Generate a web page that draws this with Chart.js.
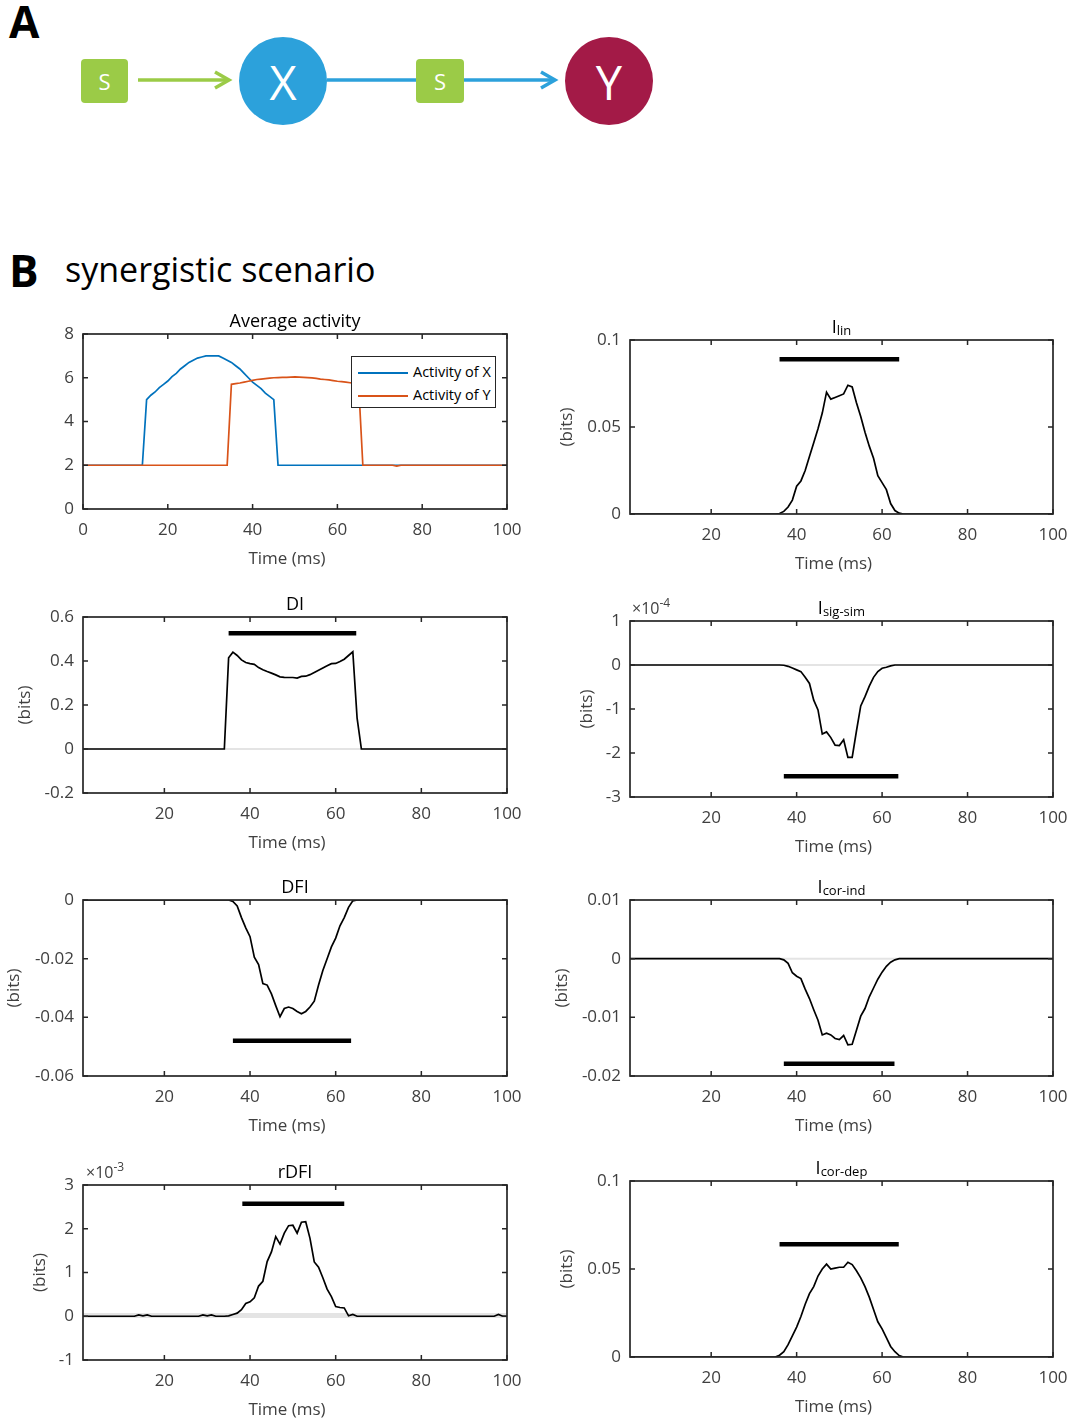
<!DOCTYPE html>
<html>
<head>
<meta charset="utf-8">
<title>synergistic scenario</title>
<script src="https://cdn.jsdelivr.net/npm/chart.js@4.4.0/dist/chart.umd.min.js"></script>
<style>
  body { margin: 0; background: #fff; }
  #page { position: relative; width: 1070px; height: 1422px; overflow: hidden; font-family: "Open Sans", sans-serif; }
  canvas { position: absolute; }
  .ttl { position: absolute; text-align: center; font-size: 18px; line-height: 22px; color: #000; white-space: nowrap; }
  .ttl sub { font-size: 13px; vertical-align: -2px; line-height: 0; }
  .xl { position: absolute; width: 200px; text-align: center; font-size: 17px; line-height: 22px; color: #404040; white-space: nowrap; }
  .expo { position: absolute; font-size: 16px; line-height: 20px; color: #404040; white-space: nowrap; }
  .expo sup { font-size: 12px; vertical-align: 7px; line-height: 0; }
  .legend { position: absolute; background: #fff; border: 1px solid #262626; font-size: 14.5px; color: #000; z-index: 2; }
  .legend div { position: absolute; left: 6px; height: 20px; line-height: 20px; white-space: nowrap; }
  .legend span.sw { display: inline-block; width: 50px; height: 0; border-top: 2px solid; vertical-align: middle; margin-right: 5px; }
  .big { position: absolute; font-weight: 700; font-size: 44px; line-height: 1; color: #000; }
  .sub-title { position: absolute; font-size: 34px; line-height: 1; color: #000; }
</style>
</head>
<body>
<div id="page">
  <svg width="700" height="140" style="position:absolute;left:0;top:0">
    <text x="9" y="38" font-family="Open Sans" font-weight="700" font-size="44">A</text>
    <rect x="81" y="59" width="47" height="44" rx="4" fill="#9BCB47"/>
    <text x="104.5" y="81" fill="#fff" font-family="Open Sans" font-size="22" text-anchor="middle" dominant-baseline="central">S</text>
    <line x1="138" y1="80" x2="229" y2="80" stroke="#9BCB47" stroke-width="3.5"/>
    <polyline points="215,72 229,80 215,88" fill="none" stroke="#9BCB47" stroke-width="3.5"/>
    <circle cx="283" cy="81" r="44" fill="#2CA1DB"/>
    <text x="283" y="82" fill="#fff" font-family="Open Sans" font-size="47" text-anchor="middle" dominant-baseline="central">X</text>
    <line x1="327" y1="80" x2="416" y2="80" stroke="#2CA1DB" stroke-width="3.5"/>
    <rect x="416" y="59" width="48" height="44" rx="4" fill="#9BCB47"/>
    <text x="440" y="81" fill="#fff" font-family="Open Sans" font-size="22" text-anchor="middle" dominant-baseline="central">S</text>
    <line x1="464" y1="80" x2="555" y2="80" stroke="#2CA1DB" stroke-width="3.5"/>
    <polyline points="541,72 555,80 541,88" fill="none" stroke="#2CA1DB" stroke-width="3.5"/>
    <circle cx="609" cy="81" r="44" fill="#A31A47"/>
    <text x="609" y="82" fill="#fff" font-family="Open Sans" font-size="47" text-anchor="middle" dominant-baseline="central">Y</text>
  </svg>
  <div class="big" style="left:9px;top:248px">B</div>
  <div class="sub-title" style="left:65px;top:252px">synergistic scenario</div>
</div>

<script>
// ---- data (time in ms) ----

// average activity of X and Y
const timeX = [0, 14,
  15, 16, 17, 18, 19, 20, 21, 22, 23, 24,
  25, 26, 27, 28, 29, 30, 31, 32, 33, 34,
  35, 36, 37, 38, 39, 40, 41, 42, 43, 44,
  45, 46, 100];
const activityX = [2, 2,
  5.0, 5.2, 5.35, 5.55, 5.7, 5.85, 6.05, 6.2, 6.4, 6.55,
  6.7, 6.8, 6.9, 6.95, 7.0, 7.0, 7.0, 7.0, 6.9, 6.8,
  6.7, 6.55, 6.4, 6.2, 6.0, 5.8, 5.65, 5.5, 5.3, 5.15,
  5.0, 2, 2];

const timeY = [0, 34,
  35, 36, 37, 38, 39, 40, 41, 42, 43, 44,
  45, 46, 47, 48, 49, 50, 51, 52, 53, 54,
  55, 56, 57, 58, 59, 60, 61, 62, 63, 64,
  65, 66, 73, 74, 75, 100];
const activityY = [2, 2,
  5.7, 5.73, 5.76, 5.8, 5.84, 5.88, 5.92, 5.94, 5.96, 5.98,
  6.0, 6.01, 6.02, 6.02, 6.03, 6.04, 6.03, 6.02, 6.01, 5.99,
  5.97, 5.94, 5.92, 5.9, 5.87, 5.84, 5.82, 5.8, 5.77, 5.74,
  5.72, 2, 2, 1.96, 2, 2];

// information measures (bits)
const timeInfo = [1,
  34, 35, 36, 37, 38, 39, 40, 41, 42, 43,
  44, 45, 46, 47, 48, 49, 50, 51, 52, 53,
  54, 55, 56, 57, 58, 59, 60, 61, 62, 63,
  64, 65, 66,
  100];

const iLin = [0,
  0, 0, 0.0003, 0.0015, 0.004, 0.008, 0.016, 0.019, 0.025, 0.033,
  0.041, 0.049, 0.058, 0.070, 0.066, 0.067, 0.068, 0.069, 0.074, 0.073,
  0.064, 0.056, 0.047, 0.039, 0.032, 0.022, 0.018, 0.014, 0.006, 0.002,
  0.0005, 0, 0,
  0];

const di = [0,
  0, 0.415, 0.44, 0.425, 0.405, 0.393, 0.388, 0.385, 0.37, 0.36,
  0.352, 0.345, 0.337, 0.328, 0.326, 0.325, 0.325, 0.322, 0.33, 0.331,
  0.338, 0.348, 0.358, 0.368, 0.378, 0.388, 0.389, 0.398, 0.408, 0.425,
  0.442, 0.14, 0,
  0];

// in units of 1e-4 bits
const iSigSimE4 = [0,
  0, 0, 0, -0.005, -0.03, -0.07, -0.11, -0.15, -0.28, -0.42,
  -0.8, -1.02, -1.57, -1.52, -1.65, -1.82, -1.83, -1.7, -2.1, -2.1,
  -1.5, -0.93, -0.72, -0.48, -0.28, -0.15, -0.075, -0.05, -0.02, 0,
  0, 0, 0,
  0];

const dfi = [0,
  0, 0, -0.0005, -0.002, -0.006, -0.0095, -0.0125, -0.0195, -0.022, -0.0285,
  -0.029, -0.032, -0.036, -0.0398, -0.037, -0.0365, -0.037, -0.038, -0.0388, -0.038,
  -0.0365, -0.0345, -0.029, -0.024, -0.02, -0.016, -0.013, -0.0088, -0.006, -0.0025,
  -0.0003, 0, 0,
  0];

const iCorInd = [0,
  0, 0, 0, -0.0002, -0.0008, -0.0024, -0.003, -0.0034, -0.0052, -0.0068,
  -0.0087, -0.0105, -0.013, -0.0127, -0.013, -0.0136, -0.0138, -0.0131, -0.0147, -0.0146,
  -0.0122, -0.0098, -0.0085, -0.0065, -0.005, -0.0035, -0.0023, -0.0013, -0.0006, -0.0002,
  0, 0, 0,
  0];

const iCorDep = [0,
  0, 0, 0.001, 0.003, 0.007, 0.012, 0.017, 0.023, 0.03, 0.036,
  0.04, 0.046, 0.05, 0.0528, 0.05, 0.0505, 0.051, 0.051, 0.0538, 0.0525,
  0.049, 0.045, 0.04, 0.034, 0.027, 0.02, 0.016, 0.011, 0.006, 0.003,
  0.0008, 0, 0,
  0];

// in units of 1e-3 bits
const timeRdfi = [1, 13, 14, 15, 16, 17, 28, 29, 30, 31, 32,
  34, 35, 36, 37, 38, 39, 40, 41, 42, 43,
  44, 45, 46, 47, 48, 49, 50, 51, 52, 53,
  54, 55, 56, 57, 58, 59, 60, 61, 62, 63,
  64, 65, 66, 97, 98, 99, 100];
const rdfiE3 = [0, 0, 0.03, 0.01, 0.03, 0, 0, 0.03, 0.01, 0.03, 0,
  0, 0.01, 0.04, 0.07, 0.15, 0.29, 0.33, 0.42, 0.69, 0.8,
  1.25, 1.47, 1.82, 1.65, 1.9, 2.07, 2.08, 1.9, 2.15, 2.16,
  1.78, 1.24, 1.12, 0.88, 0.62, 0.45, 0.22, 0.2, 0.19, 0.01,
  0.04, 0, 0, 0, 0.04, 0, 0];

// significance bars: start (ms), end (ms), level
const sigLin = [36, 64, 0.089];
const sigDi = [35, 64.8, 0.526];
const sigSimE4 = [37, 63.8, -2.53];
const sigDfi = [36, 63.6, -0.048];
const sigInd = [37, 62.9, -0.0179];
const sigRdfiE3 = [38.2, 62, 2.57];
const sigDep = [36, 63.9, 0.064];

// tick values
const xTicksAvg = [0, 20, 40, 60, 80, 100];
const xTicks = [20, 40, 60, 80, 100];
const yTicksAvg = [0, 2, 4, 6, 8];
const yTicksLin = [0, 0.05, 0.1];
const yTicksDi = [-0.2, 0, 0.2, 0.4, 0.6];
const yTicksSim = [-3, -2, -1, 0, 1];
const yTicksDfi = [-0.06, -0.04, -0.02, 0];
const yTicksInd = [-0.02, -0.01, 0, 0.01];
const yTicksRdfi = [-1, 0, 1, 2, 3];
const yTicksDep = [0, 0.05, 0.1];

// ---- drawing ----
const FONT = '"Open Sans", sans-serif';
const GREY = '#404040';
const MT = 14, MR = 26, MB = 40;
const page = document.getElementById('page');

// matlab style box with inward ticks on all four sides
const matlabBox = {
  id: 'matlabBox',
  afterDatasetsDraw(chart) {
    const { ctx, chartArea: a, scales: { x, y } } = chart;
    ctx.save();
    ctx.strokeStyle = '#262626';
    ctx.lineWidth = 1.5;
    ctx.beginPath();
    x.ticks.forEach(t => {
      const px = x.getPixelForValue(t.value);
      ctx.moveTo(px, a.bottom); ctx.lineTo(px, a.bottom - 5);
      ctx.moveTo(px, a.top); ctx.lineTo(px, a.top + 5);
    });
    y.ticks.forEach(t => {
      const py = y.getPixelForValue(t.value);
      ctx.moveTo(a.left, py); ctx.lineTo(a.left + 5, py);
      ctx.moveTo(a.right, py); ctx.lineTo(a.right - 5, py);
    });
    ctx.stroke();
    ctx.lineWidth = 1.7;
    ctx.strokeRect(a.left, a.top, a.right - a.left, a.bottom - a.top);
    ctx.restore();
  }
};

function series(t, v, color, width, order) {
  return {
    data: t.map((tt, i) => ({ x: tt, y: v[i] })),
    borderColor: color, borderWidth: width, pointRadius: 0,
    fill: false, tension: 0, order: order, borderCapStyle: 'butt'
  };
}
function sigBar(b) { return series([b[0], b[1]], [b[2], b[2]], '#000', 4.5, 0); }
function nullLine(level, width) { return series([1, 100], [level, level], '#e4e4e4', width, 3); }

function infoPanel(box, ml, yTicks, t, v, bar, title, nullLevel, nullWidth) {
  return {
    box, ml, xmin: 1, xTicks, ymin: yTicks[0], ymax: yTicks[yTicks.length - 1], yTicks,
    bits: true, title,
    datasets: [series(t, v, '#000', 1.7, 1), sigBar(bar), nullLine(nullLevel || 0, nullWidth || 2)]
  };
}

const panels = [
  { box: [83, 334, 507, 509], ml: 50, xmin: 0, xTicks: xTicksAvg, ymin: 0, ymax: 8, yTicks: yTicksAvg,
    bits: false, title: 'Average activity',
    datasets: [series(timeY, activityY, '#D95319', 1.7, 0), series(timeX, activityX, '#0072BD', 1.7, 1)] },
  infoPanel([630, 340, 1053, 514], 73, yTicksLin, timeInfo, iLin, sigLin, 'I<sub>lin</sub>'),
  infoPanel([83, 617, 507, 793], 68, yTicksDi, timeInfo, di, sigDi, 'DI'),
  infoPanel([630, 621, 1053, 797], 53, yTicksSim, timeInfo, iSigSimE4, sigSimE4, 'I<sub>sig-sim</sub>'),
  infoPanel([83, 900, 507, 1076], 79, yTicksDfi, timeInfo, dfi, sigDfi, 'DFI'),
  infoPanel([630, 900, 1053, 1076], 78, yTicksInd, timeInfo, iCorInd, sigInd, 'I<sub>cor-ind</sub>'),
  infoPanel([83, 1185, 507, 1360], 53, yTicksRdfi, timeRdfi, rdfiE3, sigRdfiE3, 'rDFI', 0.02, 5),
  infoPanel([630, 1181, 1053, 1357], 73, yTicksDep, timeInfo, iCorDep, sigDep, 'I<sub>cor-dep</sub>')
];

panels.forEach(p => {
  const [l, t, r, b] = p.box;
  const W = (r - l) + p.ml + MR;
  const H = (b - t) + MT + MB;
  const cv = document.createElement('canvas');
  cv.width = W; cv.height = H;
  cv.style.left = (l - p.ml) + 'px';
  cv.style.top = (t - MT) + 'px';
  cv.style.width = W + 'px';
  cv.style.height = H + 'px';
  page.appendChild(cv);

  const ttl = document.createElement('div');
  ttl.className = 'ttl';
  ttl.style.left = l + 'px';
  ttl.style.width = (r - l) + 'px';
  ttl.style.top = (t - 25) + 'px';
  ttl.innerHTML = p.title;
  page.appendChild(ttl);

  // x label sits a little left of the axis centre, as in the figure
  const xl = document.createElement('div');
  xl.className = 'xl';
  xl.style.left = ((l + r) / 2 - 8 - 100) + 'px';
  xl.style.top = (b + 38) + 'px';
  xl.textContent = 'Time (ms)';
  page.appendChild(xl);

  new Chart(cv, {
    type: 'line',
    data: { datasets: p.datasets },
    options: {
      responsive: false, animation: false, devicePixelRatio: 1,
      layout: { padding: { top: MT, right: MR, left: 0, bottom: 0 } },
      plugins: { legend: { display: false }, tooltip: { enabled: false } },
      scales: {
        x: {
          type: 'linear', min: p.xmin, max: 100,
          afterBuildTicks: s => { s.ticks = p.xTicks.map(v => ({ value: v })); },
          afterFit: s => { s.height = MB; s.paddingLeft = 0; s.paddingRight = 0; },
          grid: { display: false, drawTicks: false }, border: { display: false },
          ticks: { color: GREY, font: { family: FONT, size: 17 }, padding: 11, maxRotation: 0, autoSkip: false,
                   callback: v => String(v) }
        },
        y: {
          type: 'linear', min: p.ymin, max: p.ymax,
          afterBuildTicks: s => { s.ticks = p.yTicks.map(v => ({ value: v })); },
          afterFit: s => { s.width = p.ml; s.paddingTop = 0; s.paddingBottom = 0; },
          grid: { display: false, drawTicks: false }, border: { display: false },
          ticks: { color: GREY, font: { family: FONT, size: 17 }, padding: 9, autoSkip: false,
                   callback: v => String(v) },
          title: { display: p.bits, text: '(bits)', color: GREY, font: { family: FONT, size: 17 }, padding: 0 }
        }
      }
    },
    plugins: [matlabBox]
  });
});

// exponent labels
[[632, 598, '-4'], [86, 1162, '-3']].forEach(e => {
  const d = document.createElement('div');
  d.className = 'expo';
  d.style.left = e[0] + 'px';
  d.style.top = e[1] + 'px';
  d.innerHTML = '\u00d710<sup>' + e[2] + '</sup>';
  page.appendChild(d);
});

// legend of the activity panel
const legend = document.createElement('div');
legend.className = 'legend';
legend.style.left = '351px';
legend.style.top = '356px';
legend.style.width = '143px';
legend.style.height = '50px';
legend.innerHTML =
  '<div style="top:5px"><span class="sw" style="border-color:#0072BD"></span>Activity of X</div>' +
  '<div style="top:28px"><span class="sw" style="border-color:#D95319"></span>Activity of Y</div>';
page.appendChild(legend);
</script>
</body>
</html>
